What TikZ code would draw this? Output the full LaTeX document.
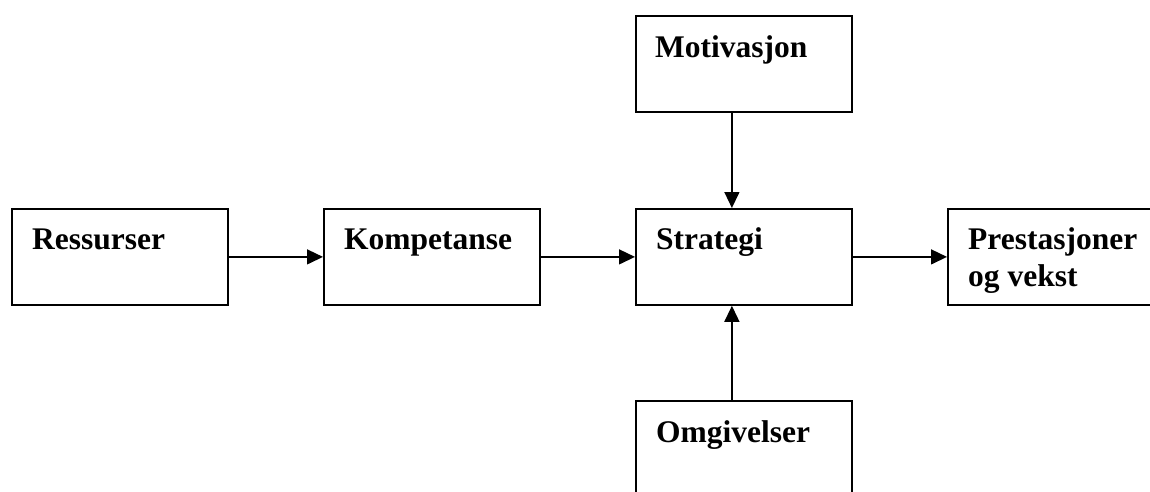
\documentclass[tikz,border=0pt]{standalone}
\usepackage{fontspec}
\setmainfont{Liberation Serif}
\usetikzlibrary{arrows.meta,calc}
\begin{document}
\begin{tikzpicture}[x=1pt,y=-1pt,
  box/.style={draw=black,line width=1.8pt,minimum width=216pt,minimum height=96pt,inner sep=0pt,anchor=north west},
  lbl/.style={anchor=base west,inner sep=0pt,font=\fontsize{31.5}{37}\selectfont\bfseries,align=left},
  conn/.style={line width=1.4pt,-{Triangle[length=16pt 0,width=15pt 0]}}]
  \useasboundingbox[fill=white] (0,0) rectangle (1150,492);
  % boxes
  \node[box] (ress) at (11,208) {};
  \node[box] (komp) at (323,208) {};
  \node[box] (strat) at (635,208) {};
  \node[box] (prest) at (947,208) {};
  \node[box] (motiv) at (635,15) {};
  \node[box] (omg) at (635,400) {};
  % labels
  \node[lbl] (tress) at (32,249) {Ressurser};
  \node[lbl] (tkomp) at (344,249) {Kompetanse};
  \node[lbl] (tstrat) at (656,249) {Strategi};
  \node[lbl] (tprest1) at (968,249) {Prestasjoner};
  \node[lbl] (tprest2) at (968,286) {og vekst};
  \node[lbl] (tmotiv) at (655,58) {Motivasjon};
  \node[lbl] (tomg) at (656,442) {Omgivelser};
  % connectors
  \draw[conn] (ress.east) -- (komp.west);
  \draw[conn] (komp.east) -- (strat.west);
  \draw[conn] (strat.east) -- (prest.west);
  \draw[conn] ($(motiv.south)+(-12,0)$) -- ($(strat.north)+(-12,0)$);
  \draw[conn] ($(omg.north)+(-12,0)$) -- ($(strat.south)+(-12,0)$);
\end{tikzpicture}
\end{document}
